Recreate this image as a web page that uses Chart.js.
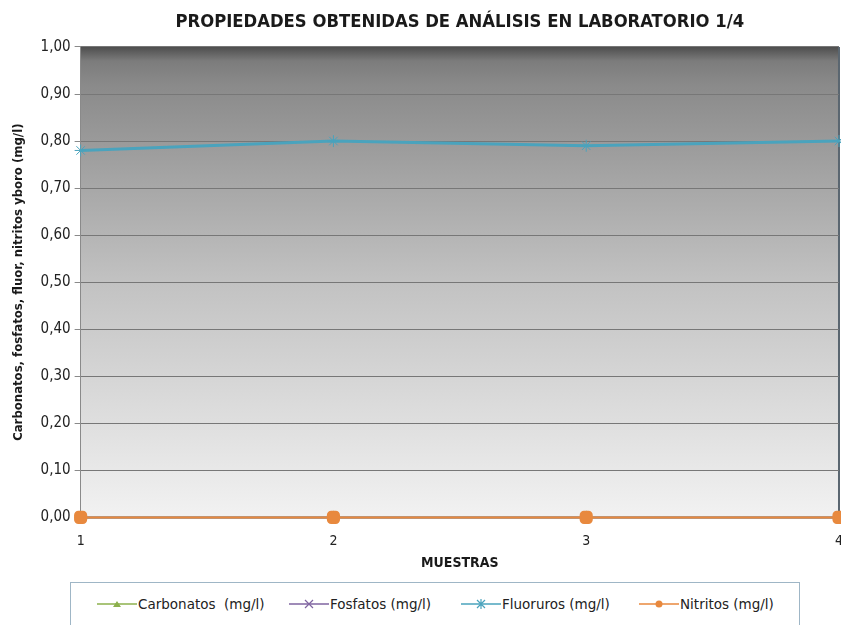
<!DOCTYPE html>
<html>
<head>
<meta charset="utf-8">
<script src="https://cdn.jsdelivr.net/npm/chart.js@4/dist/chart.umd.min.js"></script>
<style>
  html, body { margin: 0; padding: 0; background: #ffffff; }
  #wrap { position: relative; width: 841px; height: 625px; overflow: hidden; }
  #c { position: absolute; left: 0; top: 0; }
  #legend { position: absolute; left: 70px; top: 582px; width: 730px; height: 60px;
    border: 1px solid #9fb6c6; box-sizing: border-box; background: #fff;
    font-family: "DejaVu Sans", sans-serif; font-size: 13.5px; color: #222; }
  .item { position: absolute; top: 13px; display: flex; align-items: center; white-space: pre; }
  .item svg { margin-right: 1px; }
</style>
</head>
<body>
<div id="wrap">
  <canvas id="c" width="859" height="572"></canvas>
  <div id="legend"></div>
</div>
<script>
const categories = ["1", "2", "3", "4"];
const carbonatos = [0, 0, 0, 0];
const fosfatos = [0, 0, 0, 0];
const fluoruros = [0.78, 0.80, 0.79, 0.80];
const nitritos = [0, 0, 0, 0];
const seriesNames = ["Carbonatos  (mg/l)", "Fosfatos (mg/l)", "Fluoruros (mg/l)", "Nitritos (mg/l)"];
const chartTitle = "PROPIEDADES OBTENIDAS DE ANÁLISIS EN LABORATORIO 1/4";
const yTitle = "Carbonatos, fosfatos, fluor, nitritos yboro (mg/l)";
const xTitle = "MUESTRAS";

const colors = ["#8cb04c", "#7f64a0", "#4aa3bd", "#e8893e"];

const bgPlugin = {
  id: "bg",
  beforeDraw(chart) {
    const { ctx, chartArea: a } = chart;
    const g = ctx.createLinearGradient(0, a.top, 0, a.bottom);
    g.addColorStop(0, "#4e4e4e");
    g.addColorStop(0.03, "#7c7c7c");
    g.addColorStop(0.08, "#8a8a8a");
    g.addColorStop(0.5, "#c2c2c2");
    g.addColorStop(1, "#f2f2f2");
    ctx.save();
    ctx.fillStyle = g;
    ctx.fillRect(a.left, a.top, a.right - a.left, a.bottom - a.top);
    ctx.strokeStyle = "#5a6670";
    ctx.lineWidth = 2;
    ctx.beginPath();
    ctx.moveTo(a.right, a.top);
    ctx.lineTo(a.right, a.bottom);
    ctx.stroke();
    ctx.restore();
  }
};

new Chart(document.getElementById("c"), {
  type: "line",
  data: {
    labels: categories,
    datasets: [
      { label: seriesNames[0], data: carbonatos, borderColor: colors[0], backgroundColor: colors[0], pointStyle: "triangle", pointRadius: 5, borderWidth: 2, order: 4 },
      { label: seriesNames[1], data: fosfatos, borderColor: colors[1], backgroundColor: colors[1], pointStyle: "crossRot", pointRadius: 5, borderWidth: 2, order: 3 },
      { label: seriesNames[2], data: fluoruros, borderColor: colors[2], backgroundColor: colors[2], pointStyle: "star", pointRadius: 6, pointBorderWidth: 1, borderWidth: 3, order: 2 },
      { label: seriesNames[3], data: nitritos, borderColor: colors[3], backgroundColor: colors[3], pointStyle: "rectRounded", pointRadius: 6.5, borderWidth: 2, order: 1 }
    ]
  },
  options: {
    responsive: false,
    animation: false,
    clip: false,
    layout: { padding: { left: 11, right: 0, top: 7, bottom: 0 } },
    plugins: {
      legend: { display: false },
      tooltip: { enabled: false },
      title: {
        display: true,
        text: chartTitle,
        fullSize: false,
        color: "#1a1a1a",
        font: { family: "DejaVu Sans Condensed", weight: "bold", size: 18.3 },
        padding: { top: 4, bottom: 14 }
      }
    },
    scales: {
      x: {
        type: "category",
        offset: false,
        grid: { display: false, drawTicks: false },
        border: { display: true, color: "#8a8a8a", width: 1 },
        ticks: { color: "#222", font: { family: "DejaVu Sans Condensed", size: 14 }, padding: 16 },
        title: { display: true, text: xTitle, color: "#1a1a1a", font: { family: "DejaVu Sans Condensed", weight: "bold", size: 14 }, padding: { top: -11, bottom: 0 } }
      },
      y: {
        min: 0, max: 1,
        ticks: { stepSize: 0.1, color: "#222", font: { family: "DejaVu Sans Condensed", size: 15 }, padding: 4,
          callback: v => Number(v).toFixed(2).replace(".", ",") },
        grid: { color: "#777777", lineWidth: 1, tickLength: 6, tickColor: "#8a8a8a", drawOnChartArea: true },
        border: { display: true, color: "#8a8a8a", width: 1 },
        title: { display: true, text: yTitle, color: "#1a1a1a", font: { family: "DejaVu Sans Condensed", weight: "bold", size: 13 }, padding: { top: 0, bottom: 10 } }
      }
    }
  },
  plugins: [bgPlugin]
});

// HTML legend
const legend = document.getElementById("legend");
const positions = [26, 218, 390, 568];
const markers = [
  c => `<polygon points="20,3 24,9 16,9" fill="${c}"/>`,
  c => `<path d="M16,2 L24,10 M24,2 L16,10" stroke="${c}" stroke-width="1.2"/>`,
  c => `<path d="M16,2 L24,10 M24,2 L16,10 M20,1 L20,11" stroke="${c}" stroke-width="1.2"/>`,
  c => `<circle cx="20" cy="6" r="3.5" fill="${c}"/>`
];
seriesNames.forEach((name, i) => {
  const d = document.createElement("div");
  d.className = "item";
  d.style.left = positions[i] + "px";
  d.innerHTML = `<svg width="40" height="12"><line x1="0" y1="6" x2="40" y2="6" stroke="${colors[i]}" stroke-width="1.5"/>${markers[i](colors[i])}</svg><span>${name}</span>`;
  legend.appendChild(d);
});
</script>
</body>
</html>
